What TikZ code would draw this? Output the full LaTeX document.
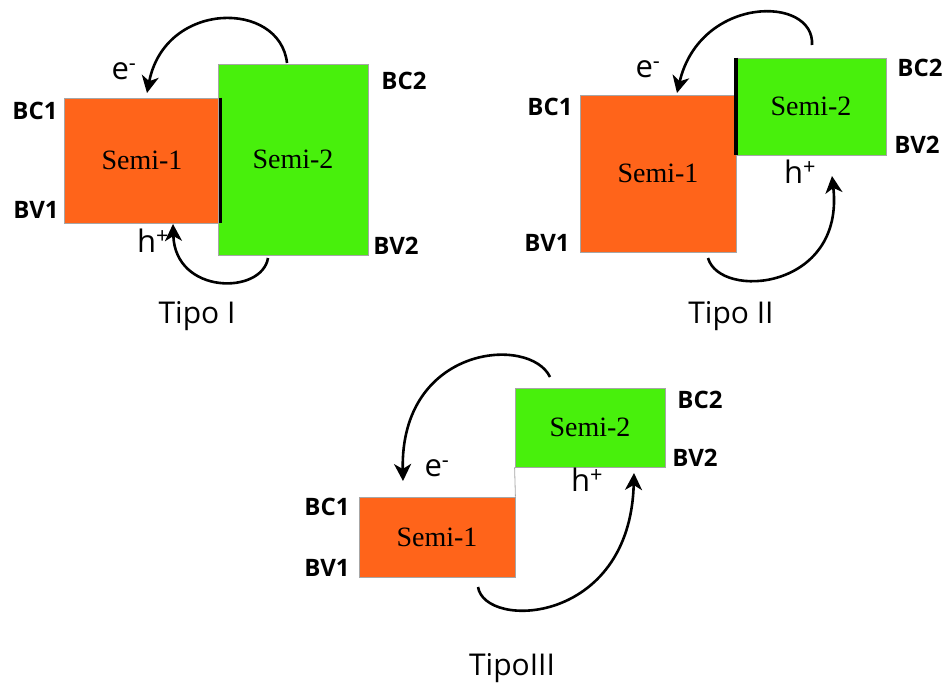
\documentclass[tikz,border=0pt]{standalone}
\usepackage{fontspec}
\setmainfont{Liberation Serif}
\setsansfont{Open Sans}
\usepackage{tikz}
\usetikzlibrary{arrows.meta}

\definecolor{semiorange}{RGB}{255,100,26}
\definecolor{semigreen}{RGB}{72,240,12}

\begin{document}
\begin{tikzpicture}[x=1pt,y=-1pt,
    band/.style={draw=gray!70, line width=0.8pt, inner sep=0pt,
      font=\fontsize{28}{30}\selectfont},
    semione/.style={band, fill=semiorange},
    semitwo/.style={band, fill=semigreen},
    level/.style={font=\sffamily\bfseries\fontsize{24}{26}\selectfont},
    carrier/.style={font=\sffamily\fontsize{31}{33}\selectfont},
    tipo/.style={font=\sffamily\fontsize{30}{32}\selectfont},
    jump/.style={line width=2.6pt, -{Stealth[length=17pt,width=17pt,inset=5pt]}}]
  \useasboundingbox (0,0) rectangle (945,687);

  % Tipo I
  \node[semione, minimum width=156pt, minimum height=125pt] (s1a) at (142,160.5) {Semi-1};
  \node[semitwo, minimum width=150pt, minimum height=191pt] (s2a) at (293,159.5) {Semi-2};
  \draw[line width=3pt] (s1a.north east) -- (s1a.south east);
  \node[level] (bc1a) at (35,111) {BC1};
  \node[level] (bv1a) at (36,210) {BV1};
  \node[level] (bc2a) at (404,81) {BC2};
  \node[level] (bv2a) at (396,246) {BV2};
  \node[carrier] (ea) at (124,71) {e\textsuperscript{-}};
  \node[carrier] (ha) at (153,241) {h\textsuperscript{+}};
  \node[tipo] (ta) at (197,316) {Tipo I};
  \coordinate (ea0) at (287,63);
  \coordinate (ea1) at (147,93);
  \coordinate (ha0) at (268,258);
  \coordinate (ha1) at (173,224);
  \draw[jump] (ea0) .. controls (280,0) and (165,0) .. (ea1);
  \draw[jump] (ha0) .. controls (262,295) and (175,295) .. (ha1);

  % Tipo II
  \node[semione, minimum width=156pt, minimum height=157pt] (s1b) at (658,173.5) {Semi-1};
  \node[semitwo, minimum width=150pt, minimum height=97pt] (s2b) at (811,106.5) {Semi-2};
  \draw[line width=4pt] (s2b.north west) -- (s2b.south west);
  \node[level] (bc1b) at (550,107) {BC1};
  \node[level] (bv1b) at (547,243) {BV1};
  \node[level] (bc2b) at (920,68) {BC2};
  \node[level] (bv2b) at (917,145) {BV2};
  \node[carrier] (eb) at (648,69) {e\textsuperscript{-}};
  \node[carrier] (hb) at (800,172) {h\textsuperscript{+}};
  \node[tipo] (tb) at (731,316) {Tipo II};
  \coordinate (eb0) at (812,45);
  \coordinate (eb1) at (677,93);
  \coordinate (hb0) at (708,258);
  \coordinate (hb1) at (832,176);
  \draw[jump] (eb0) .. controls (815,-5) and (700,-5) .. (eb1);
  \draw[jump] (hb0) .. controls (720,300) and (845,290) .. (hb1);

  % Tipo III
  \node[semione, minimum width=156pt, minimum height=80pt] (s1c) at (437,537) {Semi-1};
  \node[semitwo, minimum width=150pt, minimum height=79pt] (s2c) at (590,427.5) {Semi-2};
  \draw[gray!70, line width=0.8pt] (s2c.south west) -- (s1c.north east);
  \node[level] (bc1c) at (327,507) {BC1};
  \node[level] (bv1c) at (327,568) {BV1};
  \node[level] (bc2c) at (700,400) {BC2};
  \node[level] (bv2c) at (695,458) {BV2};
  \node[carrier] (ec) at (437,468) {e\textsuperscript{-}};
  \node[carrier] (hc) at (587,480) {h\textsuperscript{+}};
  \node[tipo] (tc) at (512,668) {TipoIII};
  \coordinate (ec0) at (550,377);
  \coordinate (ec1) at (403,481);
  \coordinate (hc0) at (478,587);
  \coordinate (hc1) at (634,473);
  \draw[jump] (ec0) .. controls (530,335) and (400,345) .. (ec1);
  \draw[jump] (hc0) .. controls (485,630) and (630,625) .. (hc1);
\end{tikzpicture}
\end{document}
